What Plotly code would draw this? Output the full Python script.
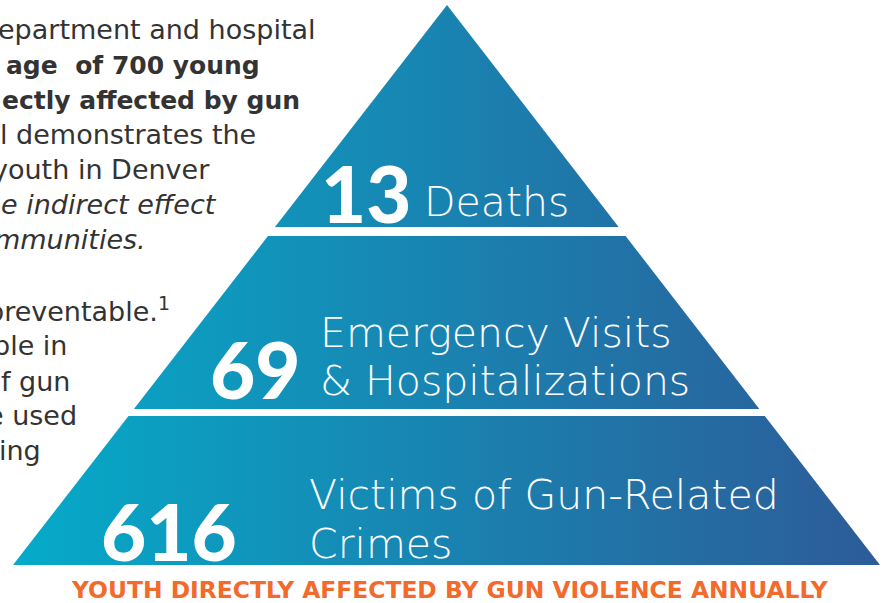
import plotly.graph_objects as go

# ---- data ----
counts = [13, 69, 616]
labels = ["Deaths", "Emergency Visits<br>& Hospitalizations", "Victims of Gun-Related<br>Crimes"]
caption = "YOUTH DIRECTLY AFFECTED BY GUN VIOLENCE ANNUALLY"
side_lines = [
    ("epartment and hospital", "normal", "normal"),
    ("age  of 700 young", "bold", "normal"),
    ("ectly affected by gun", "bold", "normal"),
    ("l demonstrates the", "normal", "normal"),
    ("youth in Denver", "normal", "normal"),
    ("e indirect effect", "normal", "italic"),
    ("mmunities.", "normal", "italic"),
    ("preventable.<sup>1</sup>", "normal", "normal"),
    ("ple in", "normal", "normal"),
    ("f gun", "normal", "normal"),
    ("e used", "normal", "normal"),
    ("ing", "normal", "normal"),
]

# ---- layout geometry (pixel-like coordinates) ----
W, H = 886, 603
apex = (447, 5)
base_y, base_l, base_r = 565, 13, 880
tiers = [(5, 227), (236, 409), (416, 565)]  # top, middle, bottom (y ranges)
c_left, c_right = "#05abc9", "#2d5b98"


def xl(y):
    return apex[0] - (apex[0] - base_l) * (y - apex[1]) / (base_y - apex[1])


def xr(y):
    return apex[0] + (base_r - apex[0]) * (y - apex[1]) / (base_y - apex[1])


fig = go.Figure()
for (y0, y1) in tiers:
    xs = [xl(y0), xr(y0), xr(y1), xl(y1), xl(y0)]
    ys = [y0, y0, y1, y1, y0]
    fig.add_trace(go.Scatter(
        x=xs, y=ys, mode="lines", fill="toself",
        line=dict(width=0, color=c_left),
        fillgradient=dict(type="horizontal", start=base_l, stop=base_r,
                          colorscale=[[0, c_left], [1, c_right]]),
        hoverinfo="skip", showlegend=False,
    ))

num_font = dict(family="Lato", size=78, color="white", weight=900)
lab_font = dict(family="DejaVu Sans", size=41, color="white", weight=200)

# number positions (right edge) and label positions (left edge, line centres)
num_pos = [(413, 193), (302, 369), (239, 531)]
lab_pos = [(422, [202]), (318, [333, 381]), (307, [495, 544])]

annotations = []
for i, n in enumerate(counts):
    nx, ny = num_pos[i]
    annotations.append(dict(x=nx, y=ny, xref="x", yref="y", text=str(n),
                            showarrow=False, xanchor="right", yanchor="middle",
                            font=num_font))
    lx, lys = lab_pos[i]
    for line, ly in zip(labels[i].split("<br>"), lys):
        annotations.append(dict(x=lx, y=ly, xref="x", yref="y", text=line,
                                showarrow=False, xanchor="left", yanchor="middle",
                                font=lab_font))

side_right = [318, 262, 302, 258, 212, 219, 148, 172, 69, 72, 79, 43]
side_y = [29, 65, 100, 134, 169, 204, 239, 309, 345, 381, 415, 450]
for (txt, wt, st), rx, yy in zip(side_lines, side_right, side_y):
    bold = wt == "bold"
    annotations.append(dict(x=rx, y=yy, xref="x", yref="y", text=txt,
                            showarrow=False, xanchor="right", yanchor="middle",
                            font=dict(family="DejaVu Sans", size=25 if bold else 27,
                                      color="#333333",
                                      weight=700 if bold else 400,
                                      style=st)))

annotations.append(dict(x=450, y=590, xref="x", yref="y", text=caption,
                        showarrow=False, xanchor="center", yanchor="middle",
                        font=dict(family="DejaVu Sans", size=23.4, color="#f26a2c",
                                  weight=700)))

fig.update_layout(
    width=W, height=H, margin=dict(l=0, r=0, t=0, b=0),
    paper_bgcolor="white", plot_bgcolor="white",
    xaxis=dict(range=[0, W], visible=False, fixedrange=True),
    yaxis=dict(range=[H, 0], visible=False, fixedrange=True),
    annotations=annotations,
)

fig.write_html("out.html", config={"displayModeBar": False},
               post_script="document.body.style.margin='0';")
